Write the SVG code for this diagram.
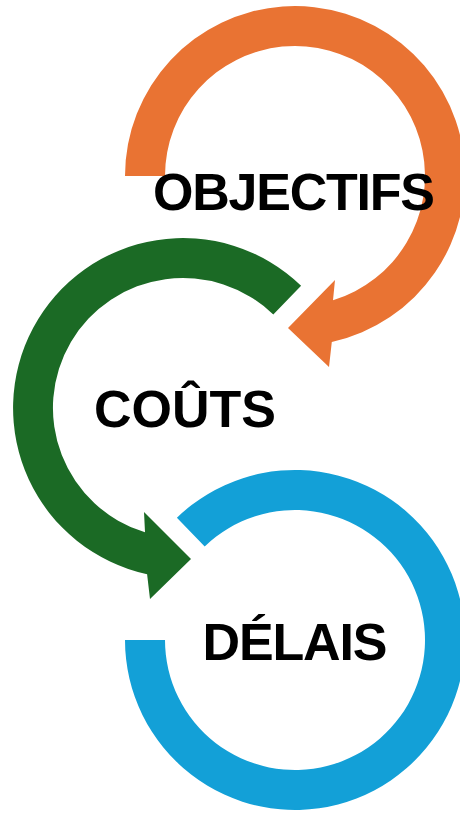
<svg xmlns="http://www.w3.org/2000/svg" width="460" height="813" viewBox="0 0 460 813">
<style>
.lbl{font-family:"Liberation Sans",Arial,sans-serif;font-weight:bold;font-size:52px;fill:#000;text-anchor:middle}
</style>
<rect width="460" height="813" fill="#fff"/>
<g id="connectors">
<path id="arrow-objectifs" fill="#E97333" d="M125,176 A170,170 0 1 1 331.8,342 L329,367 L288,328 L335,280 L333,300.3 A130,130 0 1 0 165,176 Z"/>
<path id="arrow-couts" fill="#1B6A25" d="M301.1,285.7 A170,170 0 1 0 147.1,574.2 L150,599 L191,559 L144,512 L145,532.3 A130,130 0 1 1 273.3,314.5 Z"/>
<path id="ring-delais" fill="#13A0D7" d="M176.9,517.7 A170,170 0 1 1 125,640 L165,640 A130,130 0 1 0 204.7,546.5 Z"/>
</g>
<g id="node-objectifs"><text class="lbl" x="294" y="210" textLength="282" lengthAdjust="spacing">OBJECTIFS</text></g>
<g id="node-couts"><text class="lbl" x="185" y="427">COÛTS</text></g>
<g id="node-delais"><text class="lbl" x="295" y="660" textLength="185" lengthAdjust="spacing">DÉLAIS</text></g>
</svg>
